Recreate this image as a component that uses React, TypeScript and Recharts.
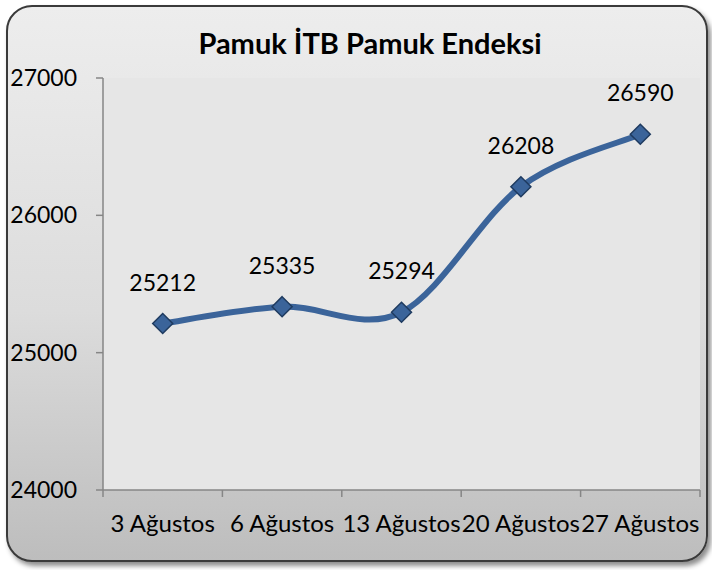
import React from "react";
import { LineChart, Line, XAxis, YAxis, CartesianGrid, LabelList } from "recharts";

// ─── Data ──────────────────────────────────────────────────────────────────────

const categories = ["3 Ağustos", "6 Ağustos", "13 Ağustos", "20 Ağustos", "27 Ağustos"];
const indexValues = [25212, 25335, 25294, 26208, 26590];
const yTicks = [24000, 25000, 26000, 27000];
const title = "Pamuk İTB Pamuk Endeksi";

const data = categories.map((name, i) => ({ name, pos: i + 0.5, value: indexValues[i] }));
const xTicks = [0, 0.5, 1, 1.5, 2, 2.5, 3, 3.5, 4, 4.5, 5];

const FONT = "Lato, 'Open Sans', sans-serif";
const AXIS = "#868686";
const LINE = "#3b649a";
const LINE_DARK = "#1f3b60";

// Excel-like smoothing (Catmull-Rom through every point)
function smoothCurve(context: any) {
  let pts: [number, number][] = [];
  return {
    areaStart() {},
    areaEnd() {},
    lineStart() {
      pts = [];
    },
    point(x: number, y: number) {
      pts.push([+x, +y]);
    },
    lineEnd() {
      if (!pts.length) return;
      context.moveTo(pts[0][0], pts[0][1]);
      for (let i = 0; i < pts.length - 1; i++) {
        const p0 = pts[Math.max(0, i - 1)];
        const p1 = pts[i];
        const p2 = pts[i + 1];
        const p3 = pts[Math.min(pts.length - 1, i + 2)];
        context.bezierCurveTo(
          p1[0] + (p2[0] - p0[0]) / 6,
          p1[1] + (p2[1] - p0[1]) / 6,
          p2[0] - (p3[0] - p1[0]) / 6,
          p2[1] - (p3[1] - p1[1]) / 6,
          p2[0],
          p2[1]
        );
      }
    },
  };
}

function Diamond(props: any) {
  const { cx, cy, index } = props;
  if (cx == null || cy == null) return null;
  const r = 10;
  return (
    <polygon
      key={`d-${index}`}
      points={`${cx},${cy - r} ${cx + r},${cy} ${cx},${cy + r} ${cx - r},${cy}`}
      fill={LINE}
      stroke={LINE_DARK}
      strokeWidth={1.5}
    />
  );
}

function XTick(props: any) {
  const { x, y, payload } = props;
  const v = payload.value as number;
  if (Number.isInteger(v)) {
    return <line x1={x} x2={x} y1={y} y2={y + 7} stroke={AXIS} strokeWidth={1.5} />;
  }
  return (
    <text x={x} y={y + 42} textAnchor="middle" fontFamily={FONT} fontSize={24} fill="#000">
      {categories[Math.floor(v)]}
    </text>
  );
}

function ValueLabel(props: any) {
  const { x, y, value } = props;
  return (
    <text x={x} y={y - 42} textAnchor="middle" dominantBaseline="central" fontFamily={FONT} fontSize={23} fill="#000">
      {value}
    </text>
  );
}

export default function App() {
  return (
    <div style={{ position: "absolute", left: 0, top: 0, width: 712, height: 570 }}>
      <div
        style={{
          position: "absolute",
          left: 6,
          top: 5,
          width: 698,
          height: 553,
          borderRadius: 26,
          border: "2px solid #3a3a3a",
          background: "linear-gradient(to bottom, #ededed 0%, #dcdcdc 55%, #bdbdbd 100%)",
          boxShadow: "3px 4px 5px rgba(0,0,0,0.45)",
        }}
      />
      <div
        style={{
          position: "absolute",
          left: 0,
          top: 25,
          width: 740,
          textAlign: "center",
          fontFamily: FONT,
          fontWeight: 700,
          fontSize: 29,
          color: "#000",
        }}
      >
        {title}
      </div>
      <div style={{ position: "absolute", left: 0, top: 0 }}>
        <LineChart width={712} height={570} data={data} margin={{ top: 78, right: 12, left: 0, bottom: 0 }}>
          <CartesianGrid fill="#e6e6e6" horizontal={false} vertical={false} />
          <XAxis
            dataKey="pos"
            type="number"
            domain={[0, 5]}
            ticks={xTicks}
            interval={0}
            height={80}
            tickSize={0}
            tickMargin={0}
            tickLine={false}
            axisLine={{ stroke: AXIS, strokeWidth: 1.5 }}
            tick={<XTick />}
          />
          <YAxis
            type="number"
            domain={[24000, 27000]}
            ticks={yTicks}
            width={103}
            tickSize={7}
            tickMargin={19}
            axisLine={{ stroke: AXIS, strokeWidth: 1.5 }}
            tickLine={{ stroke: AXIS, strokeWidth: 1.5 }}
            tick={{ fill: "#000", fontSize: 23, fontFamily: FONT }}
          />
          <Line
            dataKey="value"
            type={smoothCurve as any}
            stroke={LINE}
            strokeWidth={6}
            dot={<Diamond />}
            activeDot={false}
            isAnimationActive={false}
          >
            <LabelList dataKey="value" content={<ValueLabel />} />
          </Line>
        </LineChart>
      </div>
    </div>
  );
}
